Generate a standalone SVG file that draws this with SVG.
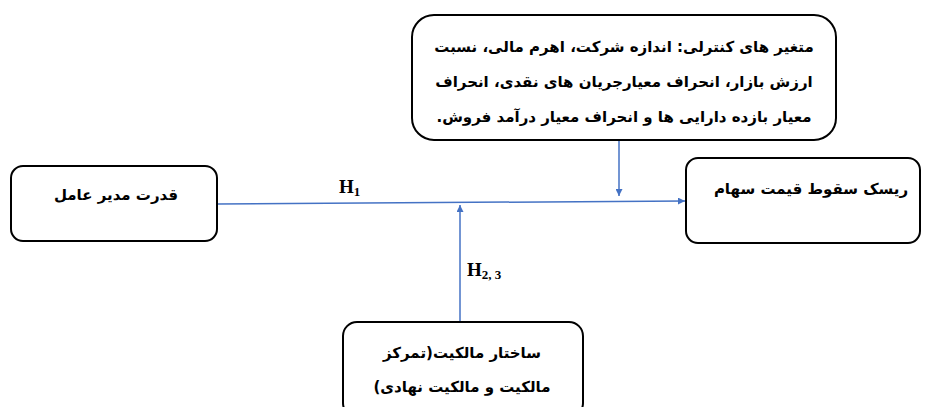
<svg xmlns="http://www.w3.org/2000/svg" width="925" height="407" viewBox="0 0 925 407">
<style>
.box{fill:#fff;stroke:#000;stroke-width:2}
.t{font-family:"DejaVu Sans",sans-serif;font-size:15px;font-weight:bold;fill:#000;text-anchor:middle;direction:rtl}
.c{stroke:#4472C4;stroke-width:1.5;fill:none;marker-end:url(#ah)}
.h{font-family:"Liberation Serif",serif;font-weight:bold;font-size:19px;fill:#000}
</style>
<defs>
<marker id="ah" viewBox="0 0 10 10" refX="10" refY="5" markerWidth="7" markerHeight="7" markerUnits="userSpaceOnUse" orient="auto">
<path d="M0,0 L10,5 L0,10 z" fill="#4472C4"/>
</marker>
</defs>
<g id="connectors">
<path class="c" d="M217,204 L685,201"/>
<path class="c" d="M619,141 L619,196"/>
<path class="c" d="M460,322 L460,205"/>
</g>
<g id="controls">
<rect class="box" x="412" y="15" width="424" height="125" rx="22"/>
<text class="t" x="624" y="52">متغیر های کنترلی: اندازه شرکت، اهرم مالی، نسبت</text>
<text class="t" x="624" y="87">ارزش بازار، انحراف معیارجریان های نقدی، انحراف</text>
<text class="t" x="624" y="122">معیار بازده دارایی ها و انحراف معیار درآمد فروش.</text>
</g>
<g id="ceo-power">
<rect class="box" x="11" y="166" width="206" height="75" rx="12"/>
<text class="t" x="116" y="200">قدرت مدیر عامل</text>
</g>
<g id="crash-risk">
<rect class="box" x="686" y="158" width="234" height="85" rx="12"/>
<text class="t" x="811" y="194">ریسک سقوط قیمت سهام</text>
</g>
<g id="ownership">
<rect class="box" x="343" y="322" width="240" height="95" rx="14"/>
<text class="t" x="462" y="358">ساختار مالکیت(تمرکز</text>
<text class="t" x="462" y="392">مالکیت و مالکیت نهادی)</text>
</g>
<g id="labels">
<text class="h" x="339" y="193">H<tspan font-size="13" dy="3">1</tspan></text>
<text class="h" x="467" y="276">H<tspan font-size="13" dy="3">2, 3</tspan></text>
</g>
</svg>
